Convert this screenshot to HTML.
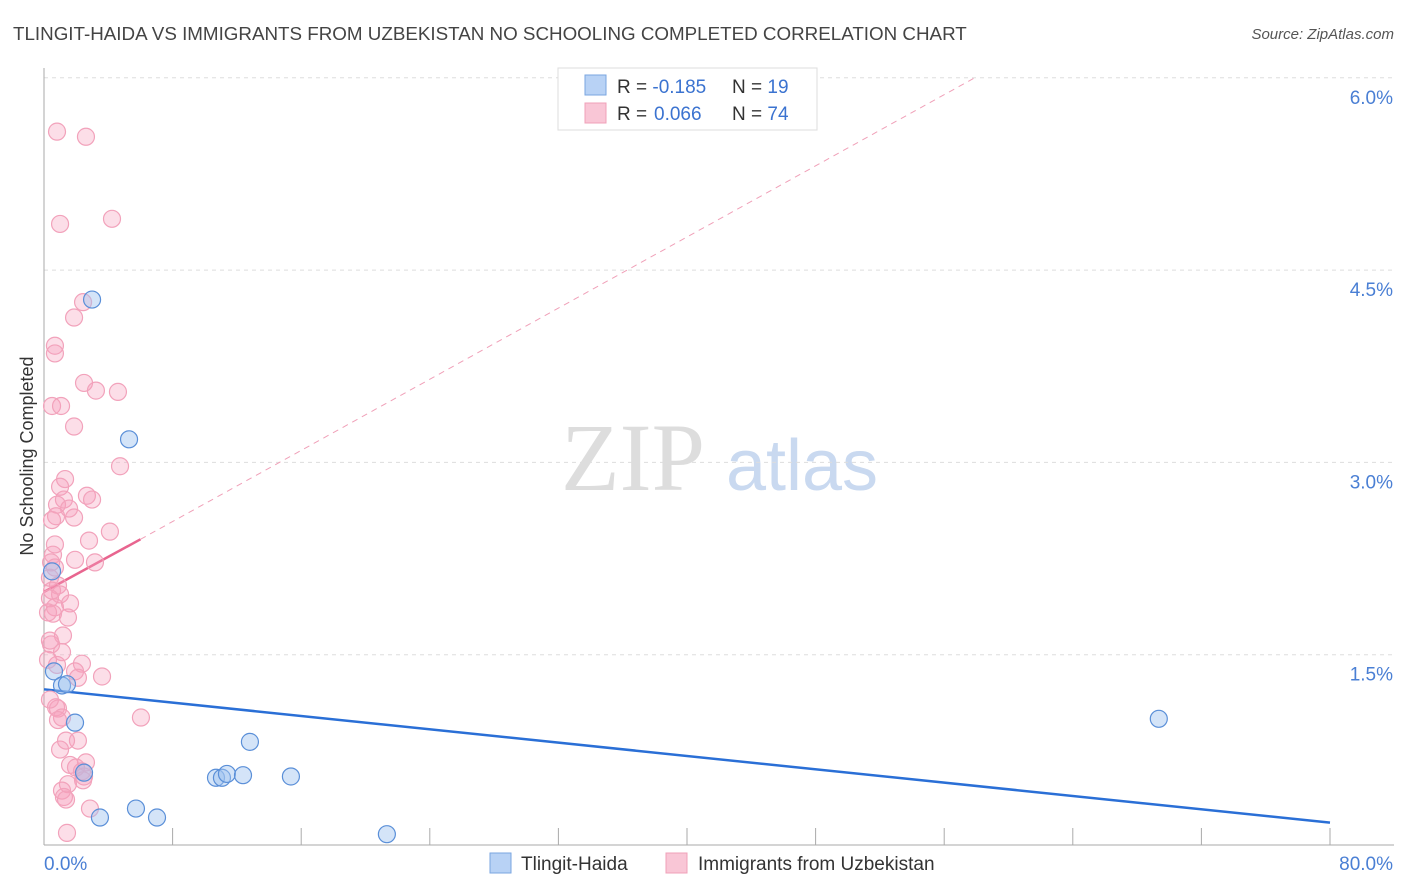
<!DOCTYPE html>
<html><head><meta charset="utf-8"><style>
body{margin:0;background:#fff;font-family:"Liberation Sans",sans-serif;}
svg{display:block}
</style></head><body>
<svg id="chart" width="1406" height="892">
<text x="13" y="40" font-size="18.8" fill="#444">TLINGIT-HAIDA VS IMMIGRANTS FROM UZBEKISTAN NO SCHOOLING COMPLETED CORRELATION CHART</text>
<text x="1394" y="39" font-size="15" fill="#555" font-style="italic" text-anchor="end">Source: ZipAtlas.com</text>
<text transform="translate(33,456) rotate(-90)" font-size="18" fill="#333" text-anchor="middle">No Schooling Completed</text>
<g><text x="633" y="490" font-size="96" fill="#ddd" font-family="Liberation Serif,serif" text-anchor="middle">ZIP</text><text x="802" y="490" font-size="72" fill="#c9d9f0" text-anchor="middle">atlas</text></g>
<g id="grid"></g><g id="axes"></g><g id="trend"></g><g id="pts"></g>
<g>
<rect x="558" y="68" width="259" height="62" fill="#fff" stroke="#ddd"/>
<rect x="585" y="75" width="21" height="20" fill="#b8d2f5" stroke="#7aa6e0"/>
<rect x="585" y="103" width="21" height="20" fill="#f9c6d6" stroke="#f0a0b8"/>
<text x="617" y="93" font-size="19" fill="#333">R = <tspan fill="#3b73d0">-0.185</tspan><tspan x="732">N = </tspan><tspan fill="#3b73d0">19</tspan></text>
<text x="617" y="120" font-size="19" fill="#333">R = <tspan x="654" fill="#3b73d0">0.066</tspan><tspan x="732">N = </tspan><tspan fill="#3b73d0">74</tspan></text>
</g>
<g>
<rect x="490" y="853" width="21" height="20" fill="#b8d2f5" stroke="#7aa6e0"/>
<text x="521" y="870" font-size="19" fill="#333">Tlingit-Haida</text>
<rect x="666" y="853" width="21" height="20" fill="#f9c6d6" stroke="#f0a0b8"/>
<text x="698" y="870" font-size="19" fill="#333">Immigrants from Uzbekistan</text>
</g>
</svg>
<script>
const blueX=[2.99,5.29,0.5,0.62,1.12,1.43,1.93,3.48,5.72,7.03,10.7,11.07,11.38,12.38,12.81,15.36,21.33,69.35,2.49];
const blueY=[4.27,3.18,2.15,1.37,1.26,1.27,0.97,0.23,0.30,0.23,0.54,0.54,0.57,0.56,0.82,0.55,0.10,1.0,0.58];
const pinkX=[0.81,2.61,1.0,4.23,2.43,1.87,0.68,0.68,2.49,3.23,4.6,0.5,1.06,1.87,4.73,1.31,1.0,2.67,1.24,0.81,1.56,1.87,0.75,4.1,2.8,0.68,0.56,3.17,0.44,0.68,0.37,0.87,0.5,1.0,0.37,1.62,0.68,0.25,1.49,0.56,1.18,1.12,0.44,0.81,2.36,1.93,3.61,2.11,0.75,0.87,1.12,6.03,1.0,2.61,1.62,1.99,2.36,2.49,2.43,1.49,1.12,1.24,1.37,2.86,1.43,0.37,1.93,0.37,0.87,2.11,0.5,2.99,1.37,0.25];
const pinkY=[5.58,5.54,4.86,4.9,4.25,4.13,3.91,3.85,3.62,3.56,3.55,3.44,3.44,3.28,2.97,2.87,2.81,2.74,2.71,2.67,2.64,2.57,2.58,2.46,2.39,2.36,2.28,2.22,2.22,2.18,2.1,2.04,2.0,1.97,1.94,1.9,1.87,1.83,1.79,1.82,1.65,1.52,1.58,1.42,1.43,1.37,1.33,1.32,1.09,1.08,1.01,1.01,0.76,0.66,0.64,0.62,0.59,0.55,0.52,0.49,0.44,0.39,0.37,0.30,0.11,1.61,2.24,1.15,0.99,0.83,2.55,2.71,0.83,1.46];
const yTicks=[1.5,3.0,4.5,6.0];
const xTickVals=[0,8,16,24,32,40,48,56,64,72,80];
const blueTrend=[0,1.23,80,0.19];
const pinkTrend=[0,1.99,6,2.4,57.9,6.0];
const NS="http://www.w3.org/2000/svg";
const sx=v=>44+v/80*1286, sy=v=>847-v/1.5*192.3;
function mk(tag,attrs,parent){const e=document.createElementNS(NS,tag);for(const k in attrs)e.setAttribute(k,attrs[k]);document.getElementById(parent).appendChild(e);return e;}
yTicks.forEach(t=>{
 const l=mk('line',{x1:44,x2:1394,y1:sy(t),y2:sy(t),stroke:'#ddd','stroke-dasharray':'4,4'},'grid');
 
 
 const tx=mk('text',{x:1393,y:sy(t)+26,'font-size':19,fill:'#4a7fd4','text-anchor':'end'},'grid');
 tx.textContent=t.toFixed(1)+'%';
 
 
});
mk('line',{x1:44,x2:44,y1:68,y2:845,stroke:'#aaa'},'axes');
mk('line',{x1:44,x2:1394,y1:845,y2:845,stroke:'#aaa'},'axes');
xTickVals.forEach(t=>{
 const l=mk('line',{x1:sx(t),x2:sx(t),y1:828,y2:845,stroke:'#aaa'},'axes');
 
 
});
[[0,'0.0%',44,'start'],[80,'80.0%',1393,'end']].forEach(a=>{
 const tx=mk('text',{x:a[2],y:870,'font-size':19,fill:'#4a7fd4','text-anchor':a[3]},'axes');
 tx.textContent=a[1];
 
 
});
const bt=mk('line',{x1:sx(blueTrend[0]),y1:sy(blueTrend[1]),x2:sx(blueTrend[2]),y2:sy(blueTrend[3]),stroke:'#2a6fd6','stroke-width':2.5},'trend');


const pt=mk('line',{x1:sx(pinkTrend[0]),y1:sy(pinkTrend[1]),x2:sx(pinkTrend[2]),y2:sy(pinkTrend[3]),stroke:'#e8658f','stroke-width':2.5},'trend');


const pd=mk('line',{x1:sx(pinkTrend[2]),y1:sy(pinkTrend[3]),x2:sx(pinkTrend[4]),y2:sy(pinkTrend[5]),stroke:'#f0a0b8','stroke-width':1,'stroke-dasharray':'6,5'},'trend');


pinkX.forEach((x,i)=>{
 const c=mk('circle',{cx:sx(x),cy:sy(pinkY[i]),r:8.5,fill:'rgba(246,160,190,0.35)',stroke:'#f2a2bb','stroke-width':1.2},'pts');
 
 
});
blueX.forEach((x,i)=>{
 const c=mk('circle',{cx:sx(x),cy:sy(blueY[i]),r:8.5,fill:'rgba(160,196,240,0.45)',stroke:'#5a8fd8','stroke-width':1.2},'pts');
 
 
});
</script>
</body></html>
